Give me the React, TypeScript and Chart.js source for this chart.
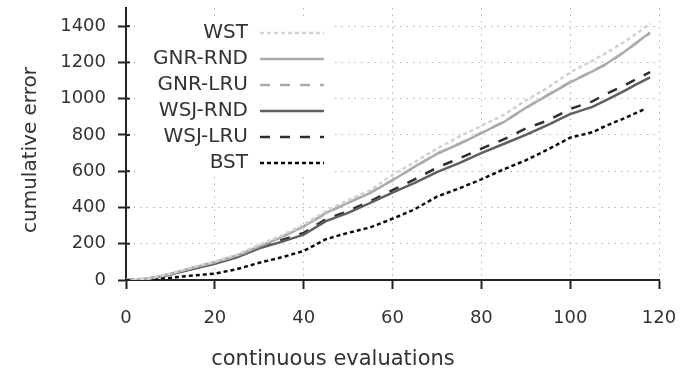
import React, { useEffect, useRef } from "react";
import { Chart, registerables } from "chart.js";

Chart.register(...registerables);

const xValues = [0, 5, 10, 15, 20, 25, 30, 35, 40, 45, 50, 55, 60, 65, 70, 75, 80, 85, 90, 95, 100, 105, 108, 112, 115, 118];
const wst = [0, 8, 35, 70, 102, 140, 195, 245, 305, 380, 440, 495, 580, 650, 725, 790, 850, 910, 990, 1060, 1145, 1210, 1250, 1310, 1360, 1415];
const gnrRnd = [0, 8, 33, 68, 98, 135, 185, 235, 295, 370, 425, 480, 550, 625, 695, 750, 810, 870, 950, 1020, 1090, 1150, 1190, 1255, 1310, 1365];
const gnrLru = [0, 8, 34, 67, 99, 134, 186, 236, 296, 368, 426, 482, 551, 623, 696, 752, 812, 871, 948, 1021, 1092, 1151, 1188, 1254, 1309, 1362];
const wsjRnd = [0, 6, 30, 60, 90, 125, 175, 210, 250, 325, 370, 425, 482, 535, 595, 645, 700, 750, 800, 855, 915, 955, 990, 1040, 1080, 1118];
const wsjLru = [0, 7, 32, 63, 93, 130, 180, 220, 260, 335, 380, 435, 495, 555, 620, 670, 724, 775, 835, 880, 943, 985, 1025, 1070, 1110, 1146];
const bstX = [0, 5, 10, 15, 20, 25, 30, 35, 40, 45, 50, 55, 60, 65, 70, 75, 80, 85, 90, 95, 100, 105, 108, 112, 117];
const bst = [0, 3, 12, 25, 35, 60, 95, 125, 160, 225, 260, 290, 338, 390, 460, 505, 555, 610, 660, 720, 785, 815, 850, 890, 945];

const seriesLabels = ["WST", "GNR-RND", "GNR-LRU", "WSJ-RND", "WSJ-LRU", "BST"];
const yTickValues = [0, 200, 400, 600, 800, 1000, 1200, 1400];
const xTickValues = [0, 20, 40, 60, 80, 100, 120];
const xTitle = "continuous evaluations";
const yTitle = "cumulative error";

const FONT = '"DejaVu Sans", Verdana, sans-serif';

const toPoints = (xs: number[], ys: number[]) => ys.map((y, i) => ({ x: xs[i], y }));

const decorPlugin = {
  id: "decor",
  beforeDatasetsDraw(chart: any) {
    const { ctx, chartArea } = chart;
    ctx.save();
    ctx.fillStyle = "#ffffff";
    ctx.fillRect(chartArea.left + 9, chartArea.top + 10, 196, 157);
    ctx.restore();
  },
  afterDatasetsDraw(chart: any) {
    const { ctx, chartArea } = chart;
    ctx.save();
    ctx.font = `20px ${FONT}`;
    ctx.textAlign = "right";
    ctx.textBaseline = "middle";
    chart.data.datasets.forEach((ds: any, i: number) => {
      const y = chartArea.top + 25 + i * 26;
      ctx.fillStyle = "#333333";
      ctx.fillText(ds.label, chartArea.left + 122, y);
      ctx.strokeStyle = ds.borderColor;
      ctx.lineWidth = ds.borderWidth;
      ctx.setLineDash(ds.borderDash || []);
      ctx.beginPath();
      ctx.moveTo(chartArea.left + 134, y);
      ctx.lineTo(chartArea.left + 198, y);
      ctx.stroke();
    });
    ctx.setLineDash([]);
    const ys = chart.scales.y;
    ctx.strokeStyle = "#222222";
    ctx.lineWidth = 2;
    ys.ticks.forEach((t: any) => {
      const py = ys.getPixelForValue(t.value);
      ctx.beginPath();
      ctx.moveTo(chartArea.left, py);
      ctx.lineTo(chartArea.left + 4, py);
      ctx.stroke();
    });
    ctx.fillStyle = "#333333";
    ctx.textAlign = "center";
    ctx.textBaseline = "alphabetic";
    ctx.font = `21px ${FONT}`;
    ctx.fillText(xTitle, chartArea.left + 207, 365);
    ctx.font = `20px ${FONT}`;
    ctx.translate(36, 150);
    ctx.rotate(-Math.PI / 2);
    ctx.fillText(yTitle, 0, 0);
    ctx.restore();
  },
};

export default function App() {
  const ref = useRef<HTMLCanvasElement | null>(null);
  useEffect(() => {
    if (!ref.current) return;
    const styles = [
      { color: "#d2d2d2", dash: [4, 3] },
      { color: "#ababab", dash: [] },
      { color: "#ababab", dash: [10, 10] },
      { color: "#5f5f5f", dash: [] },
      { color: "#2e2e2e", dash: [10, 10] },
      { color: "#0a0a0a", dash: [4, 3] },
    ];
    const dataSets = [
      toPoints(xValues, wst),
      toPoints(xValues, gnrRnd),
      toPoints(xValues, gnrLru),
      toPoints(xValues, wsjRnd),
      toPoints(xValues, wsjLru),
      toPoints(bstX, bst),
    ];
    const chart = new Chart(ref.current, {
      type: "line",
      data: {
        datasets: dataSets.map((d, i) => ({
          label: seriesLabels[i],
          data: d,
          borderColor: styles[i].color,
          borderDash: styles[i].dash,
          borderWidth: 2.5,
          pointRadius: 0,
          fill: false,
          tension: 0,
        })),
      },
      options: {
        animation: false,
        responsive: false,
        layout: { padding: { top: 8, right: 23, left: 0, bottom: 0 } },
        plugins: { legend: { display: false }, tooltip: { enabled: false } },
        scales: {
          x: {
            type: "linear",
            min: 0,
            max: 120,
            afterBuildTicks: (s: any) => {
              s.ticks = xTickValues.map((v) => ({ value: v }));
            },
            afterFit: (s: any) => {
              s.height = 92;
              s.paddingLeft = 0;
              s.paddingRight = 0;
            },
            ticks: {
              color: "#333333",
              font: { family: FONT, size: 18 },
              padding: 19,
              maxRotation: 0,
              autoSkip: false,
              callback: (v: any) => String(v),
            },
            grid: { color: "#b4b4b4", lineWidth: 1, tickLength: 9, tickColor: "#222222", tickWidth: 2 },
            border: { color: "#222222", width: 2, dash: [1.5, 5] },
          },
          y: {
            type: "linear",
            min: 0,
            max: 1500,
            afterBuildTicks: (s: any) => {
              s.ticks = yTickValues.map((v) => ({ value: v }));
            },
            afterFit: (s: any) => {
              s.width = 126;
              s.paddingTop = 0;
              s.paddingBottom = 0;
            },
            ticks: {
              color: "#333333",
              font: { family: FONT, size: 18 },
              padding: 12,
              autoSkip: false,
              callback: (v: any) => String(v),
            },
            grid: { color: "#b4b4b4", lineWidth: 1, tickLength: 8, tickColor: "#222222", tickWidth: 2 },
            border: { color: "#222222", width: 2, dash: [1.5, 5] },
          },
        },
      },
      plugins: [decorPlugin],
    });
    return () => chart.destroy();
  }, []);
  return (
    <div style={{ position: "absolute", left: 0, top: 0, width: 682, height: 372, background: "#fff" }}>
      <canvas ref={ref} width={682} height={372} />
    </div>
  );
}
